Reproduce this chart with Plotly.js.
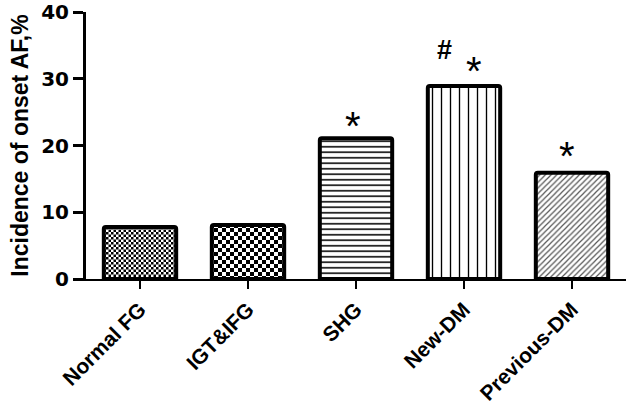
<!DOCTYPE html>
<html>
<head>
<meta charset="utf-8">
<script src="https://cdn.plot.ly/plotly-3.0.1.min.js"></script>
<style>html,body{margin:0;padding:0;background:#fff;}#chart{width:630px;height:409px;}</style>
</head>
<body>
<div id="chart"></div>
<script>
var categories = ["Normal FG", "IGT&IFG", "SHG", "New-DM", "Previous-DM"];
var incidence = [7.8, 8.1, 21.1, 28.9, 15.9];
var yTicks = [0, 10, 20, 30, 40];
var marks = [
  {cat: "SHG", text: "*", dx: -0.03, y: 22.9},
  {cat: "New-DM", text: "#", dx: -0.18, y: 34.3},
  {cat: "New-DM", text: "*", dx: 0.09, y: 31.1},
  {cat: "Previous-DM", text: "*", dx: -0.05, y: 18.4}
];
var patShapes = ["+", "+", "-", "|", "/"];
var patSizes = [5, 8, 5.5, 9, 4];
var patSolid = [0.5, 0.5, 0.28, 0.15, 0.3];
var checkerIdx = [0, 1];

var trace = {
  type: "bar",
  x: categories,
  y: incidence,
  width: 0.67,
  marker: {
    color: "#ffffff",
    cornerradius: 2,
    line: {color: "#000000", width: 4},
    pattern: {
      shape: patShapes,
      size: patSizes,
      solidity: patSolid,
      fgcolor: ["#000", "#000", "#000", "#000", "#555"],
      bgcolor: "#ffffff",
      fillmode: "replace"
    }
  },
  hoverinfo: "none"
};

var annotations = marks.map(function (m) {
  var isHash = m.text === "#";
  return {
    x: categories.indexOf(m.cat) + m.dx,
    y: m.y,
    xref: "x", yref: "y",
    text: m.text,
    showarrow: false,
    xanchor: "center", yanchor: "middle",
    font: {family: "Liberation Sans, Arial, sans-serif", size: isHash ? 27 : 40,
           weight: isHash ? "bold" : "normal", color: "#000"}
  };
});

var layout = {
  width: 630, height: 409,
  margin: {l: 86, r: 4, t: 12, b: 130},
  paper_bgcolor: "#fff", plot_bgcolor: "#fff",
  showlegend: false,
  xaxis: {
    type: "category",
    range: [-0.5, 4.5],
    showline: true, linecolor: "#000", linewidth: 2,
    ticks: "outside", ticklen: 8, tickwidth: 2, tickcolor: "#000",
    tickangle: -45,
    showgrid: false, zeroline: false,
    tickfont: {family: "Liberation Sans, Arial, sans-serif", size: 21, weight: "bold", color: "#000"}
  },
  yaxis: {
    range: [0, 40],
    tickvals: yTicks,
    ticktext: yTicks.map(String),
    showline: true, linecolor: "#000", linewidth: 3,
    ticks: "outside", ticklen: 10, tickwidth: 3, tickcolor: "#000",
    showgrid: false, zeroline: false,
    tickfont: {family: "DejaVu Sans, sans-serif", size: 20, weight: "bold", color: "#000"},
    title: {
      text: "Incidence of onset AF,%",
      font: {family: "Liberation Sans, Arial, sans-serif", size: 23, weight: "bold", color: "#000"},
      standoff: 7
    }
  },
  annotations: annotations
};

Plotly.newPlot("chart", [trace], layout, {staticPlot: true, displayModeBar: false}).then(function () {
  var paths = document.querySelectorAll("#chart .bars .point path");
  checkerIdx.forEach(function (i) {
    var p = paths[i];
    if (!p) return;
    var f = p.style.fill || p.getAttribute("fill") || "";
    var mm = f.match(/url\(["']?#([^"')]+)/);
    if (!mm) return;
    var pat = document.getElementById(mm[1]);
    if (!pat) return;
    var s = patSizes[i];
    var ns = "http://www.w3.org/2000/svg";
    while (pat.firstChild) pat.removeChild(pat.firstChild);
    pat.setAttribute("width", s);
    pat.setAttribute("height", s);
    var bg = document.createElementNS(ns, "rect");
    bg.setAttribute("width", s); bg.setAttribute("height", s); bg.setAttribute("fill", "#fff");
    pat.appendChild(bg);
    [[0, 0], [s / 2, s / 2]].forEach(function (o) {
      var r = document.createElementNS(ns, "rect");
      r.setAttribute("x", o[0]); r.setAttribute("y", o[1]);
      r.setAttribute("width", s / 2); r.setAttribute("height", s / 2);
      r.setAttribute("fill", "#000");
      pat.appendChild(r);
    });
  });
});
</script>
</body>
</html>
